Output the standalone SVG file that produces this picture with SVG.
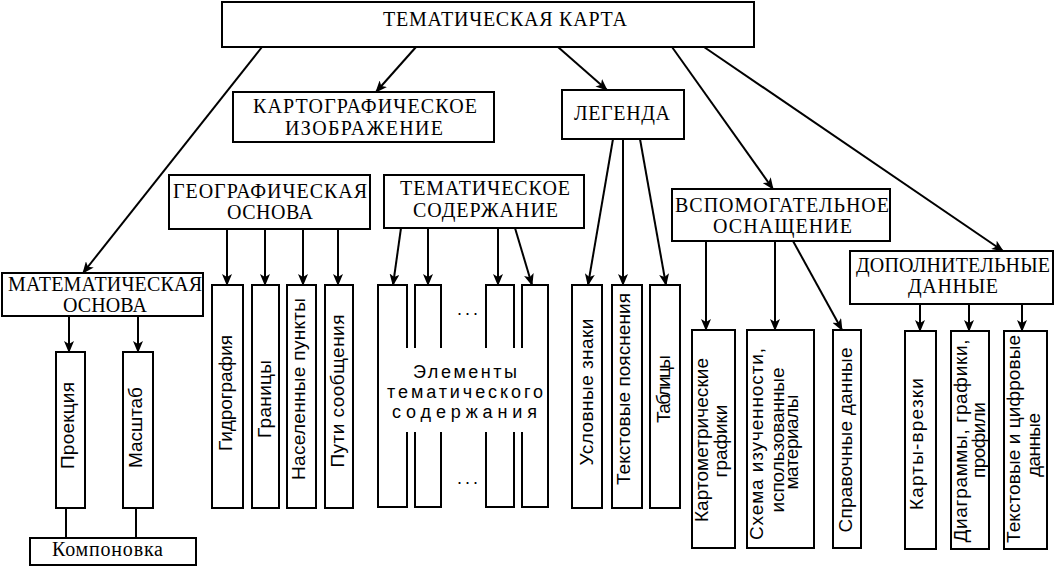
<svg xmlns="http://www.w3.org/2000/svg" width="1058" height="568" viewBox="0 0 1058 568">
<style>
.box{fill:#fff;stroke:#000;stroke-width:2}
.ln{stroke:#000;stroke-width:2;fill:none}
.h{font-family:"Liberation Serif","Times New Roman",serif;font-size:20px;fill:#000;text-anchor:middle}
.v{font-family:"Liberation Sans",Arial,sans-serif;font-size:19px;fill:#000;text-anchor:middle}
.e{font-family:"Liberation Sans",Arial,sans-serif;font-size:18px;fill:#000;text-anchor:middle}
</style>
<defs>
<marker id="ah" markerUnits="userSpaceOnUse" markerWidth="12" markerHeight="10" refX="11" refY="5" orient="auto">
<path d="M0,0 L12,5 L0,10 L3,5 Z" fill="#000"/>
</marker>
</defs>
<rect width="1058" height="568" fill="#fff"/>

<g id="connectors">
<line class="ln" x1="262" y1="47" x2="83" y2="273" marker-end="url(#ah)"/>
<line class="ln" x1="416" y1="47" x2="376" y2="92" marker-end="url(#ah)"/>
<line class="ln" x1="558" y1="47" x2="607" y2="90" marker-end="url(#ah)"/>
<line class="ln" x1="672" y1="47" x2="773" y2="189" marker-end="url(#ah)"/>
<line class="ln" x1="704" y1="47" x2="1003" y2="251" marker-end="url(#ah)"/>
<line class="ln" x1="227" y1="229" x2="227" y2="285" marker-end="url(#ah)"/>
<line class="ln" x1="265" y1="229" x2="265" y2="285" marker-end="url(#ah)"/>
<line class="ln" x1="303" y1="229" x2="303" y2="285" marker-end="url(#ah)"/>
<line class="ln" x1="338" y1="229" x2="338" y2="285" marker-end="url(#ah)"/>
<line class="ln" x1="401" y1="228" x2="393" y2="285" marker-end="url(#ah)"/>
<line class="ln" x1="428" y1="228" x2="428" y2="285" marker-end="url(#ah)"/>
<line class="ln" x1="498" y1="228" x2="498" y2="285" marker-end="url(#ah)"/>
<line class="ln" x1="515" y1="228" x2="532" y2="285" marker-end="url(#ah)"/>
<line class="ln" x1="613" y1="139" x2="588" y2="285" marker-end="url(#ah)"/>
<line class="ln" x1="623" y1="139" x2="623" y2="285" marker-end="url(#ah)"/>
<line class="ln" x1="640" y1="139" x2="666" y2="285" marker-end="url(#ah)"/>
<line class="ln" x1="69" y1="316" x2="69" y2="352" marker-end="url(#ah)"/>
<line class="ln" x1="138" y1="316" x2="138" y2="352" marker-end="url(#ah)"/>
<line class="ln" x1="706" y1="241" x2="706" y2="330" marker-end="url(#ah)"/>
<line class="ln" x1="775" y1="241" x2="775" y2="330" marker-end="url(#ah)"/>
<line class="ln" x1="793" y1="241" x2="842" y2="330" marker-end="url(#ah)"/>
<line class="ln" x1="920" y1="304" x2="920" y2="331" marker-end="url(#ah)"/>
<line class="ln" x1="969" y1="304" x2="969" y2="331" marker-end="url(#ah)"/>
<line class="ln" x1="1022" y1="304" x2="1022" y2="331" marker-end="url(#ah)"/>
<line class="ln" x1="66" y1="508" x2="66" y2="538"/>
<line class="ln" x1="136" y1="508" x2="136" y2="538"/>
</g>

<g id="n-top"><rect class="box" x="222" y="2" width="532" height="45"/>
<text class="h" x="505" y="26" textLength="244">ТЕМАТИЧЕСКАЯ КАРТА</text></g>

<g id="n-kart"><rect class="box" x="233" y="92" width="261" height="50"/>
<text class="h" x="365" y="113" textLength="224">КАРТОГРАФИЧЕСКОЕ</text>
<text class="h" x="364" y="135" textLength="158">ИЗОБРАЖЕНИЕ</text></g>

<g id="n-leg"><rect class="box" x="562" y="90" width="122" height="49"/>
<text class="h" x="622" y="120" textLength="96">ЛЕГЕНДА</text></g>

<g id="n-geo"><rect class="box" x="169" y="175" width="201" height="54"/>
<text class="h" x="270" y="198" textLength="194">ГЕОГРАФИЧЕСКАЯ</text>
<text class="h" x="270" y="219" textLength="86">ОСНОВА</text></g>

<g id="n-tem"><rect class="box" x="384" y="175" width="200" height="53"/>
<text class="h" x="485" y="195" textLength="170">ТЕМАТИЧЕСКОЕ</text>
<text class="h" x="485.5" y="217" textLength="145">СОДЕРЖАНИЕ</text></g>

<g id="n-vsp"><rect class="box" x="672" y="189" width="218" height="52"/>
<text class="h" x="782" y="212" textLength="214">ВСПОМОГАТЕЛЬНОЕ</text>
<text class="h" x="782.5" y="233" textLength="139">ОСНАЩЕНИЕ</text></g>

<g id="n-dop"><rect class="box" x="850" y="251" width="203" height="53"/>
<text class="h" x="953" y="272" textLength="194">ДОПОЛНИТЕЛЬНЫЕ</text>
<text class="h" x="953" y="293" textLength="90">ДАННЫЕ</text></g>

<g id="n-mat"><rect class="box" x="2" y="273" width="201" height="43"/>
<text class="h" x="105" y="291" textLength="194">МАТЕМАТИЧЕСКАЯ</text>
<text class="h" x="105" y="312" textLength="84">ОСНОВА</text></g>

<g id="n-proj"><rect class="box" x="56" y="352" width="29" height="156"/>
<text class="v" transform="translate(73.5,425.5) rotate(-90)" textLength="87">Проекция</text></g>

<g id="n-masht"><rect class="box" x="123" y="352" width="30" height="156"/>
<text class="v" transform="translate(142,427.5) rotate(-90)" textLength="81">Масштаб</text></g>

<g id="n-komp"><rect class="box" x="30" y="538" width="166" height="27"/>
<text class="h" x="107.5" y="556" textLength="111">Компоновка</text></g>

<g id="n-gidro"><rect class="box" x="212" y="285" width="31" height="223"/>
<text class="v" transform="translate(232,393) rotate(-90)" textLength="116">Гидрография</text></g>

<g id="n-gran"><rect class="box" x="252" y="285" width="27" height="223"/>
<text class="v" transform="translate(271,399) rotate(-90)" textLength="78">Границы</text></g>

<g id="n-nas"><rect class="box" x="287" y="285" width="29" height="223"/>
<text class="v" transform="translate(305,389) rotate(-90)" textLength="182">Населенные пункты</text></g>

<g id="n-puti"><rect class="box" x="325" y="285" width="28" height="223"/>
<text class="v" transform="translate(344,391) rotate(-90)" textLength="153">Пути сообщения</text></g>

<g id="n-elem">
<path class="ln" d="M407,348 V285 H378 V507 H407 V432 M415,348 V285 H441 V348 M415,432 V507 H441 V432 M486,348 V285 H514 V348 M486,432 V507 H514 V432 M522,348 V285 H548 V507 H522 V432"/>
<text class="e" x="467.5" y="315" textLength="21">. . .</text>
<text class="e" x="467.5" y="484" textLength="21">. . .</text>
<text class="e" x="465" y="378" textLength="104">Элементы</text>
<text class="e" x="465" y="398" textLength="156">тематического</text>
<text class="e" x="464.5" y="418" textLength="145">содержания</text>
</g>

<g id="n-usl"><rect class="box" x="572" y="285" width="30" height="223"/>
<text class="v" transform="translate(593,392) rotate(-90)" textLength="147">Условные знаки</text></g>

<g id="n-tekst"><rect class="box" x="612" y="285" width="30" height="223"/>
<text class="v" transform="translate(630,389) rotate(-90)" textLength="192">Текстовые пояснения</text></g>

<g id="n-tabl"><rect class="box" x="650" y="285" width="30" height="223"/>
<text class="v" transform="translate(670,389) rotate(-90)" textLength="68">Таблицы</text></g>

<g id="n-kartometr"><rect class="box" x="692" y="330" width="43" height="218"/>
<text class="v" transform="translate(708,440) rotate(-90)" textLength="164">Картометрические</text>
<text class="v" transform="translate(727,441) rotate(-90)" textLength="73">графики</text></g>

<g id="n-shema"><rect class="box" x="747" y="330" width="67" height="218"/>
<text class="v" transform="translate(763,444) rotate(-90)" textLength="192">Схема изученности,</text>
<text class="v" transform="translate(784,440) rotate(-90)" textLength="145">использованные</text>
<text class="v" transform="translate(798,442) rotate(-90)" textLength="95">материалы</text></g>

<g id="n-sprav"><rect class="box" x="833" y="330" width="28" height="218"/>
<text class="v" transform="translate(852,440) rotate(-90)" textLength="185">Справочные данные</text></g>

<g id="n-vrezki"><rect class="box" x="905" y="331" width="31" height="218"/>
<text class="v" transform="translate(923,444) rotate(-90)" textLength="132">Карты-врезки</text></g>

<g id="n-diagr"><rect class="box" x="951" y="331" width="38" height="218"/>
<text class="v" transform="translate(967,441) rotate(-90)" textLength="203">Диаграммы, графики,</text>
<text class="v" transform="translate(985,440) rotate(-90)" textLength="76">профили</text></g>

<g id="n-cifr"><rect class="box" x="1004" y="331" width="43" height="218"/>
<text class="v" transform="translate(1020,439) rotate(-90)" textLength="208">Текстовые и цифровые</text>
<text class="v" transform="translate(1040,445) rotate(-90)" textLength="64">данные</text></g>
</svg>
